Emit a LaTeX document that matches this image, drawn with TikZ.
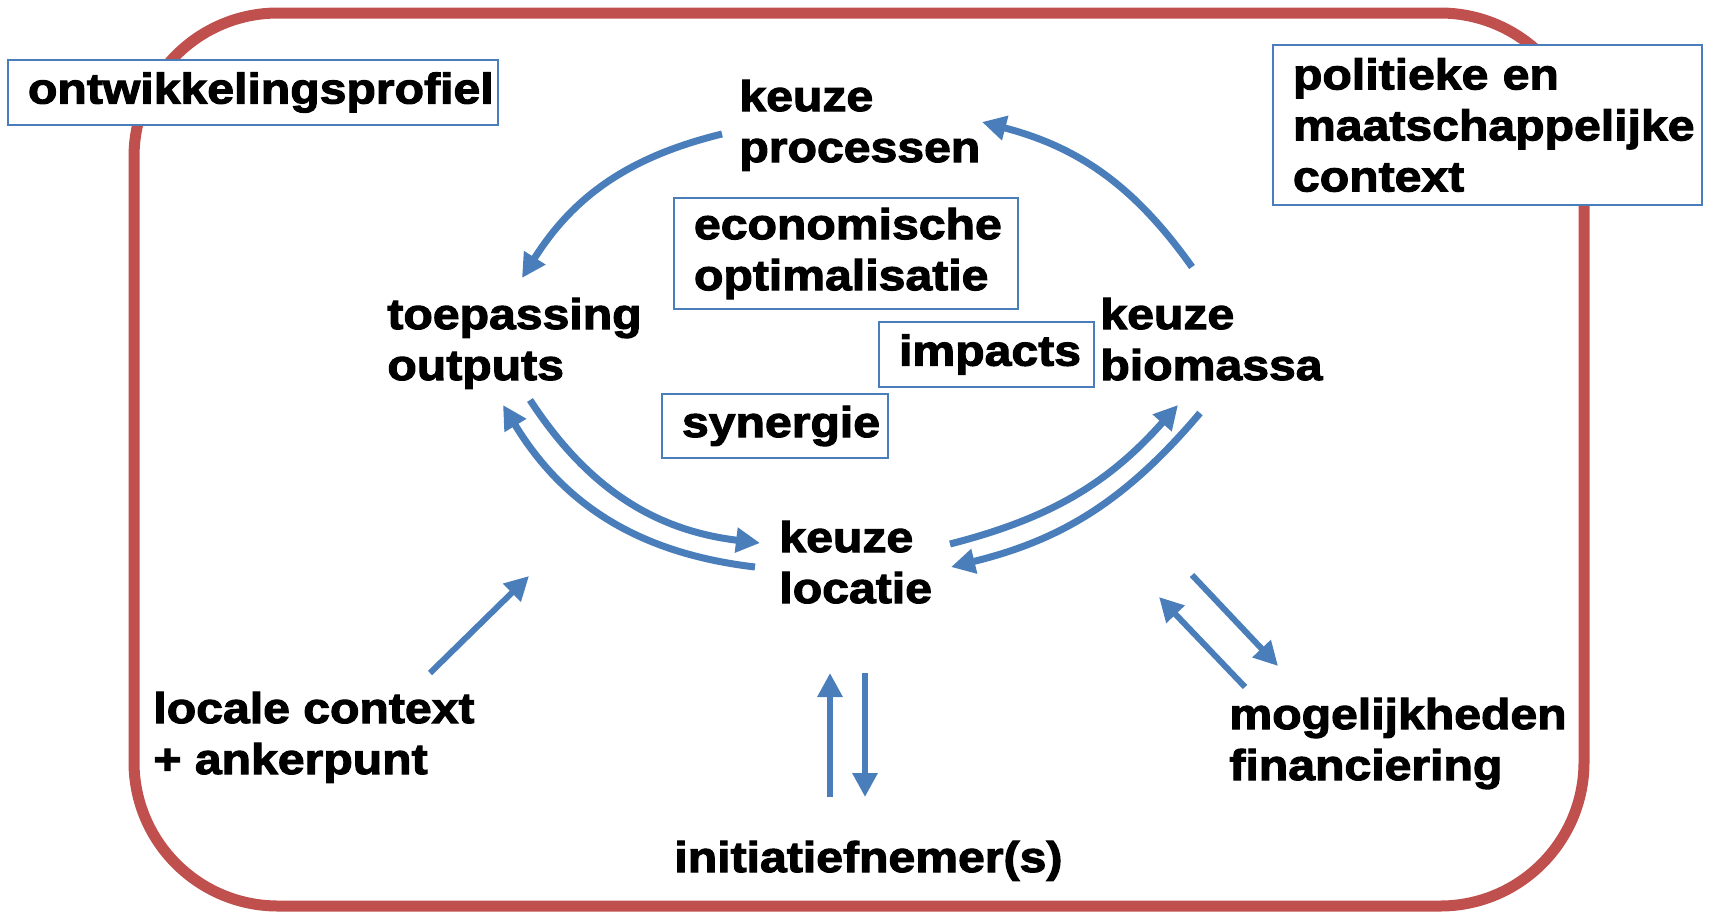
\documentclass[tikz,border=0pt]{standalone}
\usepackage{fontspec}
\setmainfont{Liberation Sans}[FakeStretch=1.12,FakeBold=2.5]
\usetikzlibrary{arrows.meta,positioning}
\definecolor{framered}{RGB}{192,80,77}
\definecolor{flowblue}{RGB}{74,126,187}

\begin{document}
\begin{tikzpicture}[x=0.5pt,y=-0.5pt,font=\fontsize{21.5}{25.5}\selectfont\bfseries]
    \tikzset{txt/.style={align=left,inner sep=0pt,anchor=base west},
      boxed/.style={draw=flowblue,line width=1pt,fill=white,align=left,anchor=north west,inner xsep=10pt,inner ysep=0pt},
      flow/.style={color=flowblue,line width=3.5pt,-{Triangle[length=12pt,width=12pt]}},
      frame/.style={draw=framered,line width=5.5pt,rounded corners=72pt}}
    \useasboundingbox (0,0) rectangle (1717,916);
    \draw[frame] (134,13) rectangle (1584,906);
    % labels of the cycle (base = last line)
    \node[txt] (processen) at (739,162) {keuze\\processen};
    \node[txt] (outputs) at (387,380) {toepassing\\outputs};
    \node[txt] (biomassa) at (1100,380) {keuze\\biomassa};
    \node[txt] (locatie) at (779,603) {keuze\\locatie};
    \node[txt] (lokaal) at (153,774) {locale context\\+ ankerpunt};
    \node[txt] (financiering) at (1229,780) {mogelijkheden\\financiering};
    \node[txt] (initiatief) at (674,872) {initiatiefnemer(s)};
    % boxes
    \node[boxed,minimum width=245pt,minimum height=32.5pt,text width=225pt] (profiel) at (7,59) {ontwikkelingsprofiel};
    \node[boxed,minimum width=172pt,minimum height=55.5pt,text width=152pt] (economie) at (673,197) {economische\\optimalisatie};
    \node[boxed,minimum width=113pt,minimum height=32pt,text width=93pt] (synergie) at (661,393) {synergie};
    \node[boxed,minimum width=107.5pt,minimum height=32.5pt,text width=87.5pt] (impacts) at (878,321) {impacts};
    \node[boxed,minimum width=214.5pt,minimum height=80pt,text width=194.5pt] (politiek) at (1272,44) {politieke en\\maatschappelijke\\context};
    % arrow ends
    \coordinate (pr-a) at (722,134);
    \coordinate (pr-b) at (982,122);
    \coordinate (ou-a) at (522,278);
    \coordinate (ou-b) at (530,400);
    \coordinate (ou-c) at (503,405);
    \coordinate (bi-a) at (1192,267);
    \coordinate (bi-b) at (1178,405);
    \coordinate (bi-c) at (1200,413);
    \coordinate (lo-a) at (760,543);
    \coordinate (lo-b) at (755,567);
    \coordinate (lo-c) at (950,544);
    \coordinate (lo-d) at (951,567);
    \coordinate (lo-e) at (529,576);
    \coordinate (lc-a) at (430,673);
    \coordinate (in-a) at (830,797);
    \coordinate (in-b) at (830,673);
    \coordinate (in-c) at (865,673);
    \coordinate (in-d) at (865,797);
    \coordinate (fi-a) at (1192,575);
    \coordinate (fi-b) at (1278,666);
    \coordinate (fi-c) at (1245,687);
    \coordinate (fi-d) at (1159,597);
    \path[flow]
    (pr-a) edge [bend right=22] (ou-a)
    (bi-a) edge [bend right=20] (pr-b)
    (ou-b) edge [bend right=25] (lo-a)
    (lo-b) edge [bend left=26] (ou-c)
    (lo-c) edge [bend right=17] (bi-b)
    (bi-c) edge [bend left=18] (lo-d)
    ;
    \path[flow,line width=3pt]
    (lc-a) edge (lo-e)
    (in-a) edge (in-b)
    (in-c) edge (in-d)
    (fi-a) edge (fi-b)
    (fi-c) edge (fi-d)
    ;
  \end{tikzpicture}
\end{document}
